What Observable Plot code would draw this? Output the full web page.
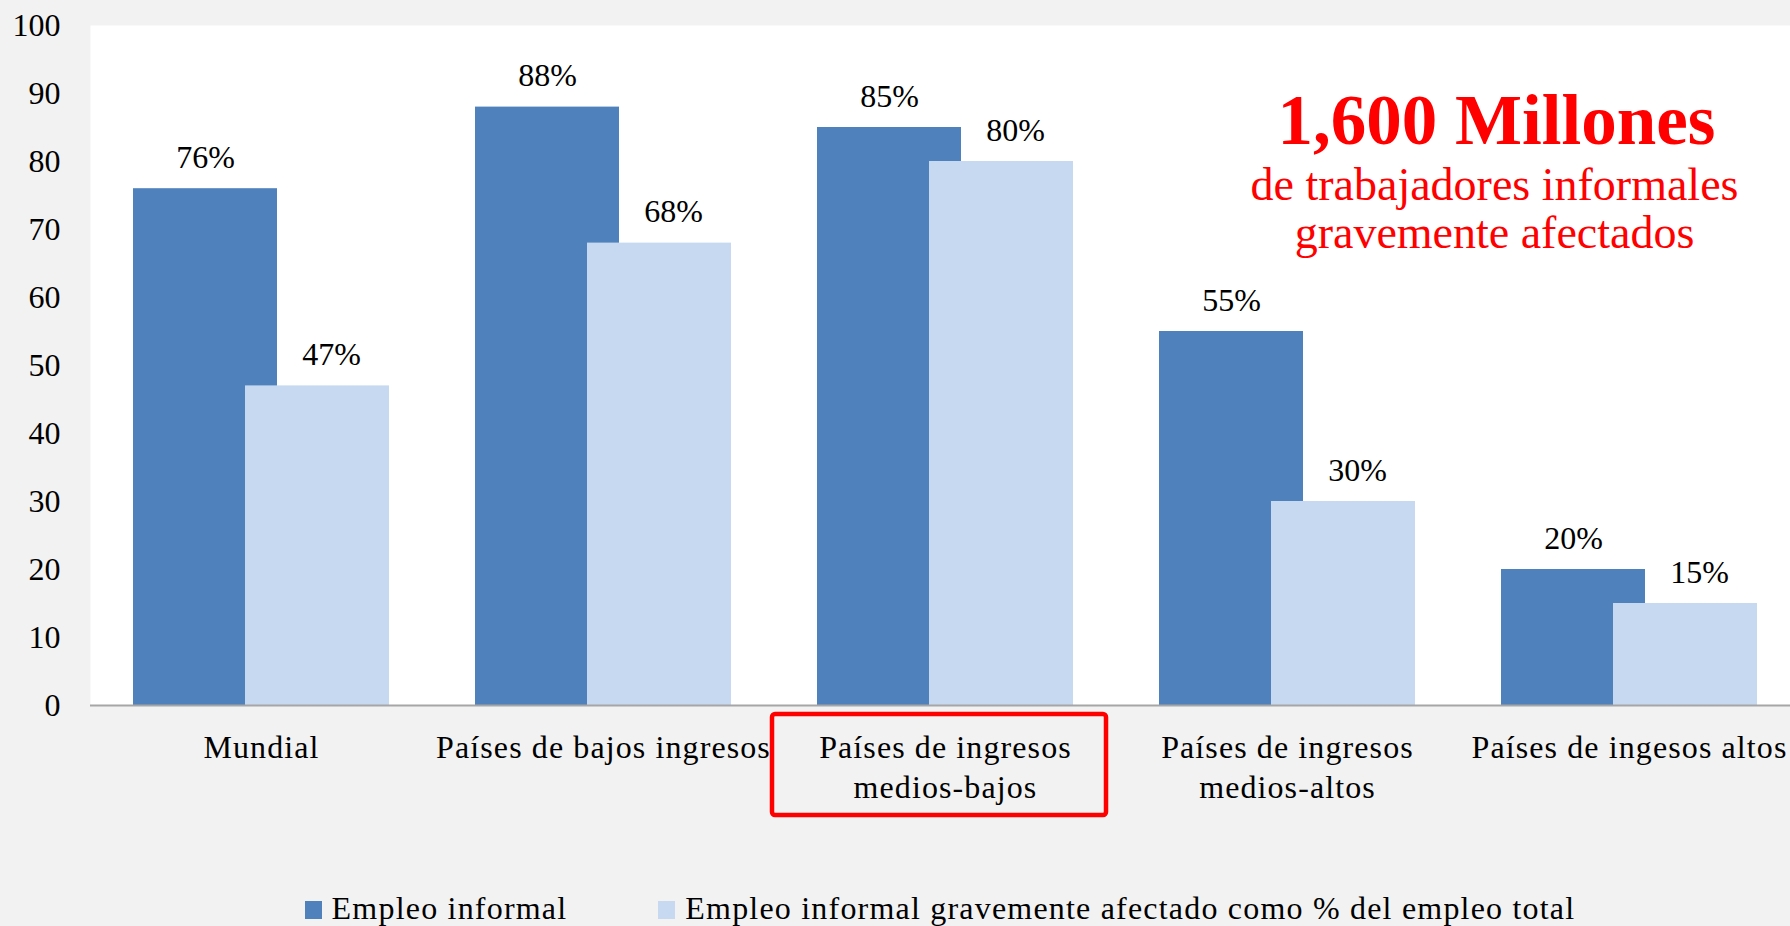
<!DOCTYPE html>
<html>
<head>
<meta charset="utf-8">
<script src="https://cdn.jsdelivr.net/npm/d3@7"></script>
<script src="https://cdn.jsdelivr.net/npm/@observablehq/plot@0.6"></script>
<style>
  html, body { margin: 0; padding: 0; background: #f2f2f2; overflow: hidden; }
  #chart svg { display: block; }
  #chart svg text { font-family: "Liberation Serif", "DejaVu Serif", serif; }
  #chart svg g[aria-label="x-axis tick label"] text { letter-spacing: 1.1px; }
  #legend {
    height: 38px; display: flex; justify-content: center; padding-left: 90px;
    gap: 91px; font-family: "Liberation Serif", "DejaVu Serif", serif; font-size: 32px; line-height: 40px;
    letter-spacing: 1.2px; white-space: nowrap; color: #000;
  }
  #legend .sw { display: inline-block; width: 17px; height: 18px; margin-right: 10px; vertical-align: baseline; }
</style>
</head>
<body>
<div id="chart"></div>
<div id="legend"></div>
<script>
const categories = [
  "Mundial",
  "Países de bajos ingresos",
  "Países de ingresos\nmedios-bajos",
  "Países de ingresos\nmedios-altos",
  "Países de ingesos altos"
];
const seriesNames = ["Empleo informal", "Empleo informal gravemente afectado como % del empleo total"];
const empleoInformal = [76, 88, 85, 55, 20];
const empleoAfectado = [47, 68, 80, 30, 15];
const yTicks = [0, 10, 20, 30, 40, 50, 60, 70, 80, 90, 100];
const highlighted = ["Países de ingresos\nmedios-bajos"];
const annotationTitle = ["1,600 Millones"];
const annotationBody = ["de trabajadores informales\ngravemente afectados"];
const seriesColors = ["#4f81bd", "#c6d9f0"];

const dark = categories.map((c, i) => ({category: c, value: empleoInformal[i], series: seriesNames[0]}));
const light = categories.map((c, i) => ({category: c, value: empleoAfectado[i], series: seriesNames[1]}));

const font = "Liberation Serif";

const chart = Plot.plot({
  width: 1790,
  height: 888,
  marginLeft: 90,
  marginRight: 0,
  marginTop: 25,
  marginBottom: 183,
  style: {background: "#f2f2f2", fontFamily: font, fontSize: "32px", color: "#000", overflow: "visible"},
  x: {type: "band", domain: categories, range: [90, 1800], padding: 0, label: null},
  y: {domain: [0, 100], label: null},
  marks: [
    Plot.frame({fill: "white", stroke: "none"}),
    Plot.barY(dark, {x: "category", y: "value", fill: seriesColors[0], insetLeft: 43, insetRight: 155}),
    Plot.barY(light, {x: "category", y: "value", fill: seriesColors[1], insetLeft: 155, insetRight: 43}),
    Plot.ruleY([0], {stroke: "#a6a6a6", strokeWidth: 2}),
    Plot.text(dark, {x: "category", y: "value", text: d => d.value + "%", dx: -56, dy: -21, lineAnchor: "bottom", fontSize: 32, fontFamily: font, fill: "#000"}),
    Plot.text(light, {x: "category", y: "value", text: d => d.value + "%", dx: 70, dy: -21, lineAnchor: "bottom", fontSize: 32, fontFamily: font, fill: "#000"}),
    Plot.axisY({ticks: yTicks, tickSize: 0, tickPadding: 30, label: null, fontSize: 32, fontFamily: font, tickFormat: d => String(d)}),
    Plot.axisX({tickSize: 0, tickPadding: 24, label: null, fontSize: 32, fontFamily: font, lineHeight: 1.25}),
    Plot.barY(highlighted, {x: d => d, y1: -1.32, y2: -16.18, fill: "none", stroke: "#ff0000", strokeWidth: 4.5, insetLeft: -2, insetRight: 10, rx: 3}),
    Plot.text(annotationTitle, {text: d => d, frameAnchor: "top-right", dx: -294, dy: 118, lineAnchor: "bottom", textAnchor: "middle", fontSize: 71, fontWeight: "bold", fontFamily: font, fill: "#ff0000"}),
    Plot.text(annotationBody, {text: d => d, frameAnchor: "top-right", dx: -296, dy: 222, lineAnchor: "bottom", textAnchor: "middle", fontSize: 46, lineHeight: 1.043, fontFamily: font, fill: "#ff0000"})
  ]
});
document.getElementById("chart").appendChild(chart);

const legend = document.getElementById("legend");
seriesNames.forEach((name, i) => {
  const item = document.createElement("span");
  const sw = document.createElement("span");
  sw.className = "sw";
  sw.style.background = seriesColors[i];
  item.appendChild(sw);
  item.appendChild(document.createTextNode(name));
  legend.appendChild(item);
});
</script>
</body>
</html>
